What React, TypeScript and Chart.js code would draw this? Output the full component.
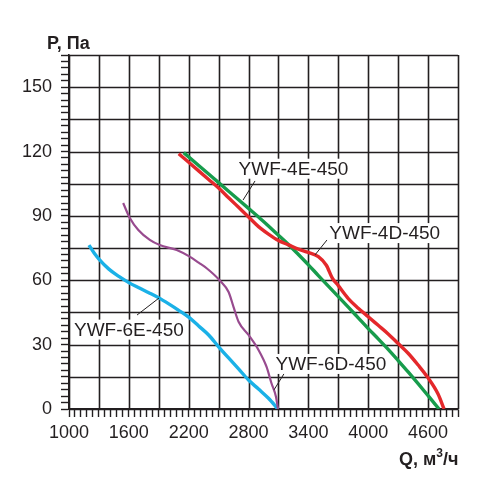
import { useEffect, useRef } from "react";
import { Chart, registerables, Plugin } from "chart.js";

Chart.register(...registerables);

const FONT = '"Liberation Sans", Arial, sans-serif';
const INK = "#231f20";

// Q (m3/h) and P (Pa)
const q4D = [2100, 2200, 2300, 2400, 2500, 2600, 2700, 2800, 2900, 3000, 3100, 3200, 3300, 3400, 3500, 3580, 3640, 3700, 3800, 3900, 4000, 4100, 4200, 4300, 4400, 4500, 4600, 4700, 4760];
const p4D = [119, 115, 111, 107, 103, 98.5, 94, 89.5, 85, 81.5, 78.5, 76.5, 74.5, 73, 71, 67, 61, 57.5, 51.5, 47, 43, 39, 35, 30.5, 26, 20.5, 14.5, 7, 0];

const q4E = [2150, 2300, 2400, 2500, 2600, 2700, 2800, 2900, 3000, 3100, 3200, 3300, 3400, 3500, 3600, 3700, 3800, 3900, 4000, 4100, 4200, 4300, 4400, 4500, 4600, 4710];
const p4E = [119.5, 113.5, 109.5, 105.5, 101.5, 97.5, 93.5, 89.5, 85.3, 81, 76.7, 72, 67.2, 62.2, 57.3, 52.4, 47.5, 42.5, 37.5, 32.7, 27.8, 22.6, 17.3, 11.8, 6.2, 0];

const q6E = [1200, 1250, 1300, 1400, 1500, 1600, 1700, 1800, 1900, 2000, 2100, 2200, 2300, 2400, 2500, 2600, 2700, 2800, 2900, 3000, 3095];
const p6E = [76.4, 72.8, 69.9, 65.2, 61.8, 58.9, 56.5, 54.2, 51.8, 49, 46, 42.8, 38.7, 34.5, 29, 23.8, 18.7, 13.5, 9.3, 5, 0];

const q6D = [1543, 1610, 1695, 1810, 1910, 2080, 2210, 2300, 2380, 2510, 2600, 2650, 2700, 2800, 2900, 2980, 3030, 3075, 3095];
const p6D = [96, 89, 83.4, 78.8, 76.4, 74.1, 71, 68.2, 65.6, 60, 54.5, 47.5, 40.7, 34.5, 27.5, 19.7, 12, 5.7, 0];

// curve captions: text anchor (left, middle) and leader line ends, in data units
const captions = ["YWF-4E-450", "YWF-4D-450", "YWF-6E-450", "YWF-6D-450"];
const captionQ = [2700, 3610, 1050, 3070];
const captionP = [112, 82, 37, 21];
const leaderFrom = [[2865, 106.3], [3587, 78.8], [1682, 43.8], [3166, 17.2]];
const leaderTo = [[2745, 97.4], [3466, 71.8], [1902, 51.7], [3055, 8.9]];

const pts = (qs: number[], ps: number[]) => qs.map((q, i) => ({ x: q, y: ps[i] }));

const isMajorQ = (v: number) => Math.round(v - 1000) % 300 === 0;
const isMajorP = (v: number) => Math.round(v) % 15 === 0;

// heavy grid at every 300 m3/h and 15 Pa, drawn from the scales' own ticks
const gridPlugin: Plugin<"line"> = {
  id: "gridPlugin",
  beforeDatasetsDraw(chart) {
    const { ctx, chartArea: a } = chart;
    const x = chart.scales.x;
    const y = chart.scales.y;
    ctx.save();
    ctx.strokeStyle = INK;
    ctx.lineWidth = 1.6;
    ctx.beginPath();
    x.ticks.forEach((t) => {
      if (!isMajorQ(t.value)) return;
      const px = Math.round(x.getPixelForValue(t.value)) + 0.5;
      ctx.moveTo(px, a.top);
      ctx.lineTo(px, a.bottom);
    });
    y.ticks.forEach((t) => {
      if (!isMajorP(t.value)) return;
      const py = Math.round(y.getPixelForValue(t.value)) + 0.5;
      ctx.moveTo(a.left, py);
      ctx.lineTo(a.right, py);
    });
    ctx.stroke();
    ctx.restore();
  },
};

const overlay: Plugin<"line"> = {
  id: "overlay",
  afterDatasetsDraw(chart) {
    const { ctx } = chart;
    const x = chart.scales.x;
    const y = chart.scales.y;
    ctx.save();

    ctx.strokeStyle = INK;
    ctx.lineWidth = 1;
    leaderFrom.forEach((f, i) => {
      const t = leaderTo[i];
      ctx.beginPath();
      ctx.moveTo(x.getPixelForValue(f[0]), y.getPixelForValue(f[1]));
      ctx.lineTo(x.getPixelForValue(t[0]), y.getPixelForValue(t[1]));
      ctx.stroke();
    });

    ctx.font = `19px ${FONT}`;
    ctx.textBaseline = "middle";
    captions.forEach((text, i) => {
      const px = x.getPixelForValue(captionQ[i]);
      const py = y.getPixelForValue(captionP[i]);
      const w = ctx.measureText(text).width;
      ctx.fillStyle = "#fff";
      ctx.fillRect(px - 2, py - 10, w + 4, 20);
      ctx.fillStyle = INK;
      ctx.fillText(text, px, py + 1);
    });

    // axis titles
    ctx.textBaseline = "alphabetic";
    ctx.font = `bold 18px ${FONT}`;
    ctx.fillText("P, Па", 47, 49);

    let cx = 399;
    const base = 465;
    ctx.fillText("Q, м", cx, base);
    cx += ctx.measureText("Q, м").width;
    ctx.font = `bold 12px ${FONT}`;
    ctx.fillText("3", cx, base - 8);
    cx += ctx.measureText("3").width;
    ctx.font = `bold 18px ${FONT}`;
    ctx.fillText("/ч", cx, base);

    ctx.restore();
  },
};

export default function App() {
  const canvasRef = useRef<HTMLCanvasElement | null>(null);

  useEffect(() => {
    document.body.style.margin = "0";
    if (!canvasRef.current) return;

    const line = (label: string, qs: number[], ps: number[], color: string, width: number) => ({
      label,
      data: pts(qs, ps),
      borderColor: color,
      borderWidth: width,
      pointRadius: 0,
      cubicInterpolationMode: "monotone" as const,
      fill: false,
    });

    const tickGrid = {
      drawOnChartArea: false,
      color: INK,
      tickColor: INK,
      tickLength: 8,
      tickWidth: 1.4,
    };

    const chart = new Chart(canvasRef.current, {
      type: "line",
      data: {
        datasets: [
          line("YWF-4D-450", q4D, p4D, "#e4282b", 3.4),
          line("YWF-4E-450", q4E, p4E, "#179c4c", 3.4),
          line("YWF-6D-450", q6D, p6D, "#984b8f", 2.2),
          line("YWF-6E-450", q6E, p6E, "#1bb1e7", 3.4),
        ],
      },
      options: {
        responsive: false,
        animation: false,
        layout: { padding: { left: 0, top: 55, right: 42, bottom: 49 } },
        plugins: { legend: { display: false }, tooltip: { enabled: false } },
        scales: {
          x: {
            type: "linear",
            min: 1000,
            max: 4900,
            afterFit: (s) => { s.height = 30; },
            border: { color: INK, width: 1.6 },
            grid: tickGrid,
            ticks: {
              stepSize: 60,
              autoSkip: false,
              maxRotation: 0,
              padding: 5,
              color: INK,
              font: { family: FONT, size: 18 },
              callback: (v) => (Math.round(Number(v) - 1000) % 600 === 0 ? String(v) : ""),
            },
          },
          y: {
            type: "linear",
            min: 0,
            max: 165,
            afterFit: (s) => { s.width = 69; },
            border: { color: INK, width: 1.6 },
            grid: tickGrid,
            ticks: {
              stepSize: 3,
              autoSkip: false,
              padding: 9,
              color: INK,
              font: { family: FONT, size: 18 },
              callback: (v) => (Math.round(Number(v)) % 30 === 0 ? String(v) : ""),
            },
          },
        },
      },
      plugins: [gridPlugin, overlay],
    });

    return () => chart.destroy();
  }, []);

  return (
    <div style={{ width: 500, height: 488, background: "#fff" }}>
      <canvas ref={canvasRef} width={500} height={488} />
    </div>
  );
}
